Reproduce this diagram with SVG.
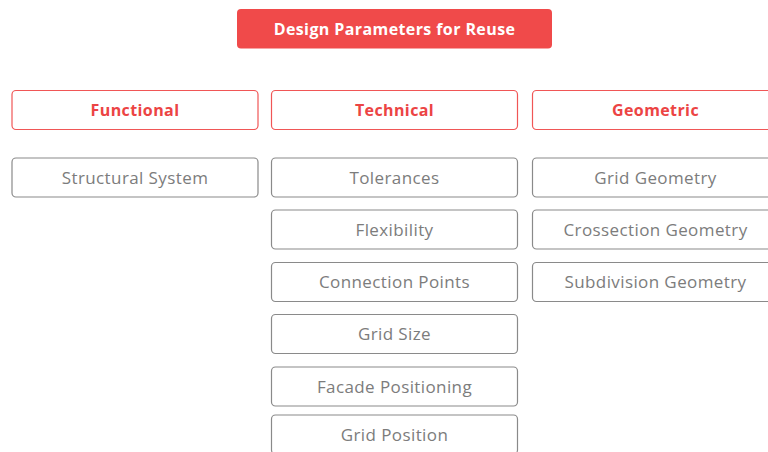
<svg xmlns="http://www.w3.org/2000/svg" width="768" height="452" viewBox="0 0 768 452">
<style>
.title{fill:#f04a4a}
.tt{fill:#ffffff;font-family:"Open Sans","Liberation Sans",sans-serif;font-weight:700;font-size:16px;letter-spacing:0.4px;text-anchor:middle}
.hd{fill:#ffffff;stroke:#f05656;stroke-width:1.2}
.ht{fill:#ec4444;font-family:"Open Sans","Liberation Sans",sans-serif;font-weight:700;font-size:16px;letter-spacing:0.4px;text-anchor:middle}
.it{fill:#ffffff;stroke:#8a8a8a;stroke-width:1.2}
.itt{fill:#7c7c7c;font-family:"Open Sans","Liberation Sans",sans-serif;font-size:17px;letter-spacing:0.4px;text-anchor:middle}
</style>
<rect width="768" height="452" fill="#ffffff"/>
<g id="connectors"/>
<g id="title"><rect class="title" x="237" y="9" width="315" height="39.5" rx="4"/><text class="tt" x="394.5" y="34.5">Design Parameters for Reuse</text></g>
<g id="functional"><rect class="hd" x="12" y="90.5" width="246" height="39" rx="4"/><text class="ht" x="135" y="115.5">Functional</text></g>
<g id="technical"><rect class="hd" x="271.5" y="90.5" width="246" height="39" rx="4"/><text class="ht" x="394.5" y="115.5">Technical</text></g>
<g id="geometric"><rect class="hd" x="532.5" y="90.5" width="246" height="39" rx="4"/><text class="ht" x="655.5" y="115.5">Geometric</text></g>
<g id="structural-system"><rect class="it" x="12" y="158" width="246" height="39" rx="4"/><text class="itt" x="135" y="183.5">Structural System</text></g>
<g id="tolerances"><rect class="it" x="271.5" y="158" width="246" height="39" rx="4"/><text class="itt" x="394.5" y="183.5">Tolerances</text></g>
<g id="flexibility"><rect class="it" x="271.5" y="210" width="246" height="39" rx="4"/><text class="itt" x="394.5" y="235.5">Flexibility</text></g>
<g id="connection-points"><rect class="it" x="271.5" y="262.5" width="246" height="39" rx="4"/><text class="itt" x="394.5" y="288">Connection Points</text></g>
<g id="grid-size"><rect class="it" x="271.5" y="314.5" width="246" height="39" rx="4"/><text class="itt" x="394.5" y="340">Grid Size</text></g>
<g id="facade-positioning"><rect class="it" x="271.5" y="367" width="246" height="39" rx="4"/><text class="itt" x="394.5" y="392.5">Facade Positioning</text></g>
<g id="grid-position"><rect class="it" x="271.5" y="415" width="246" height="39" rx="4"/><text class="itt" x="394.5" y="440.5">Grid Position</text></g>
<g id="grid-geometry"><rect class="it" x="532.5" y="158" width="246" height="39" rx="4"/><text class="itt" x="655.5" y="183.5">Grid Geometry</text></g>
<g id="crossection-geometry"><rect class="it" x="532.5" y="210" width="246" height="39" rx="4"/><text class="itt" x="655.5" y="235.5">Crossection Geometry</text></g>
<g id="subdivision-geometry"><rect class="it" x="532.5" y="262.5" width="246" height="39" rx="4"/><text class="itt" x="655.5" y="288">Subdivision Geometry</text></g>
</svg>
